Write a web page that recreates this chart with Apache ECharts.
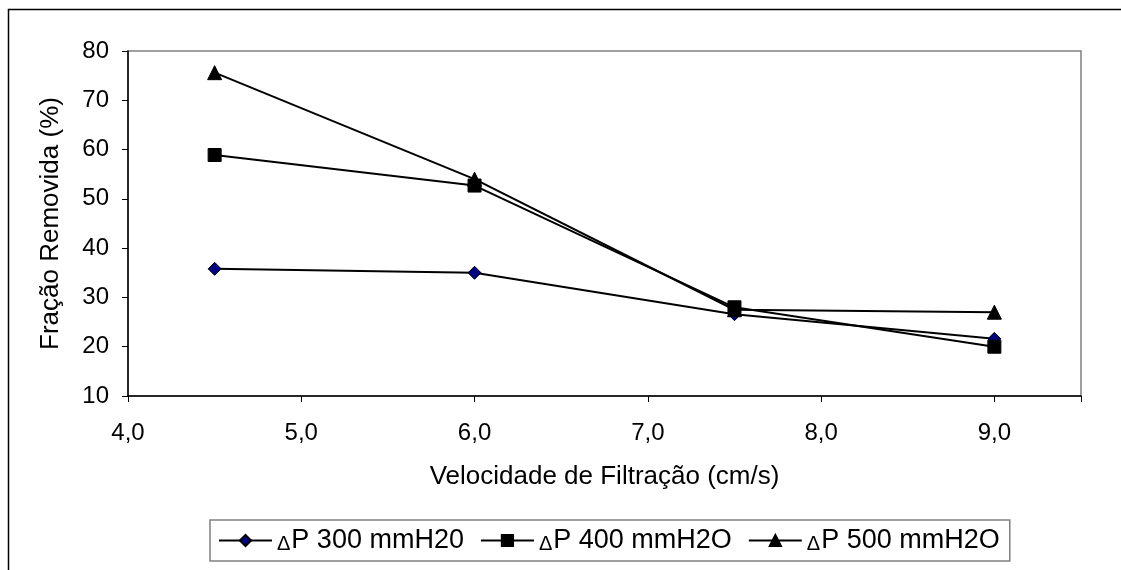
<!DOCTYPE html>
<html>
<head>
<meta charset="utf-8">
<script src="https://cdn.jsdelivr.net/npm/echarts@6/dist/echarts.min.js"></script>
<style>
  html, body { margin: 0; padding: 0; background: #fff; }
  #chart { width: 1121px; height: 570px; }
</style>
</head>
<body>
<div id="chart"></div>
<script>
// velocidade de filtração (cm/s)
const velocidades = [4.5, 6.0, 7.5, 9.0]
const nomes = ['ΔP 300 mmH20', 'ΔP 400 mmH2O', 'ΔP 500 mmH2O']
const dp300 = [35.8, 35.0, 26.6, 21.6]
const dp400 = [58.9, 52.7, 28.0, 20.0]
const dp500 = [75.6, 54.0, 27.5, 27.0]

const fonte = 'Liberation Sans, Arial, sans-serif'
const virgula = v => v.toFixed(1).replace('.', ',')

function serie(nome, valores, simbolo, tam, cor) {
  return {
    name: nome,
    type: 'line',
    data: velocidades.map((x, i) => [x, valores[i]]),
    symbol: simbolo,
    symbolSize: tam,
    showAllSymbol: true,
    lineStyle: { color: '#000', width: 2 },
    itemStyle: { color: cor, borderColor: '#000', borderWidth: 1 },
    emphasis: { disabled: true },
    animation: false
  }
}

const chart = echarts.init(document.getElementById('chart'))
chart.setOption({
  backgroundColor: '#fff',
  textStyle: { fontFamily: fonte },
  graphic: [{
    type: 'rect',
    shape: { x: 8.5, y: 9.5, width: 1200, height: 700 },
    style: { fill: 'none', stroke: '#000', lineWidth: 1.5 },
    silent: true
  }],
  grid: { left: 128, top: 51, right: 40, bottom: 174, show: true, borderColor: '#808080', borderWidth: 1.5 },
  legend: {
    left: 210, top: 520,
    padding: [7, 10, 7, 8],
    itemGap: 16,
    itemWidth: 53, itemHeight: 14,
    borderColor: '#808080', borderWidth: 1.5,
    data: nomes,
    formatter: n => n.replace('Δ', '{d|Δ}'),
    textStyle: {
      fontFamily: fonte, fontSize: 27, color: '#000',
      rich: { d: { fontFamily: fonte, fontSize: 20, color: '#000', verticalAlign: 'bottom', padding: [0, 1, 0, 0] } }
    }
  },
  xAxis: {
    type: 'value', min: 4, max: 9.5, interval: 1,
    name: 'Velocidade de Filtração (cm/s)',
    nameLocation: 'middle', nameGap: 68,
    nameTextStyle: { fontFamily: fonte, fontSize: 26, color: '#000' },
    axisLine: { onZero: false, lineStyle: { color: '#000', width: 1.5 } },
    axisTick: { length: 6, lineStyle: { color: '#000' } },
    axisLabel: { formatter: v => (v <= 9 ? virgula(v) : ''), fontSize: 24, color: '#000', margin: 25, fontFamily: fonte },
    splitLine: { show: false }
  },
  yAxis: {
    type: 'value', min: 10, max: 80, interval: 10,
    name: 'Fração Removida (%)',
    nameLocation: 'middle', nameGap: 64,
    nameTextStyle: { fontFamily: fonte, fontSize: 26, color: '#000' },
    axisLine: { show: true, lineStyle: { color: '#000', width: 1.5 } },
    axisTick: { show: true, length: 6, lineStyle: { color: '#000' } },
    axisLabel: { fontSize: 24, color: '#000', margin: 19, fontFamily: fonte },
    splitLine: { show: false }
  },
  series: [
    serie(nomes[0], dp300, 'diamond', 13, '#000080'),
    serie(nomes[1], dp400, 'rect', 13, '#000'),
    serie(nomes[2], dp500, 'triangle', 14, '#000')
  ]
})
</script>
</body>
</html>
